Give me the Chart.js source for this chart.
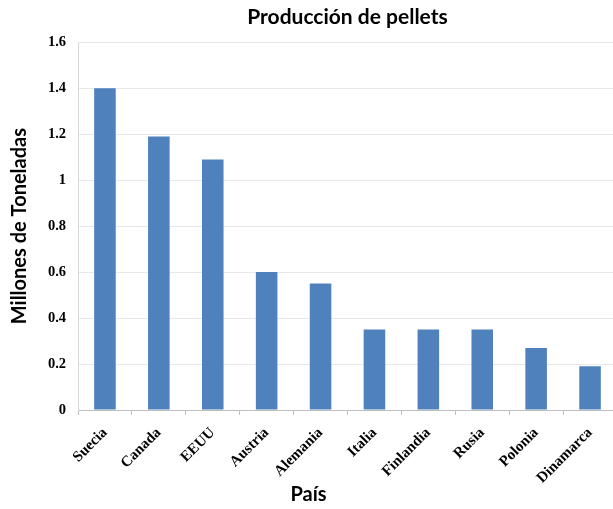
<!DOCTYPE html>
<html>
<head>
<meta charset="utf-8">
<script src="https://cdn.jsdelivr.net/npm/chart.js@4"></script>
<style>
  html, body { margin:0; padding:0; overflow:hidden; background:#fff; }
  #wrap { width:620px; height:509px; }
</style>
</head>
<body>
<div id="wrap"><canvas id="pellets"></canvas></div>
<script>
const paises     = ["Suecia", "Canada", "EEUU", "Austria", "Alemania", "Italia", "Finlandia", "Rusia", "Polonia", "Dinamarca"];
const produccion = [1.4, 1.19, 1.09, 0.6, 0.55, 0.35, 0.35, 0.35, 0.27, 0.19];
const yMin  = 0;
const yMax  = 1.6;
const yStep = 0.2;

const serifY = { family:"'Liberation Serif', 'Times New Roman', serif", size:14.5, weight:"bold" };
const serifX = { family:"'Liberation Serif', 'Times New Roman', serif", size:15, weight:"bold" };
const sans   = { family:"Lato, 'Open Sans', sans-serif", size:20, weight:"bold" };

const ctx = document.getElementById("pellets").getContext("2d");
new Chart(ctx, {
  type: "bar",
  data: {
    labels: paises,
    datasets: [{
      data: produccion,
      backgroundColor: "#4f81bd",
      borderWidth: 0,
      barPercentage: 0.4,
      categoryPercentage: 1,
    }],
  },
  options: {
    responsive: true,
    maintainAspectRatio: false,
    animation: false,
    layout: { padding: { left:0, right:3, top:0, bottom:0 } },
    plugins: {
      legend: { display: false },
      tooltip: { enabled: false },
      title: {
        display: true,
        text: "Producción de pellets",
        color: "#000",
        font: { ...sans, size:21 },
        fullSize: false,
        padding: { top:5, bottom:12 },
      },
      subtitle: {
        display: true,
        position: "bottom",
        text: "País",
        color: "#000",
        font: sans,
        fullSize: true,
        padding: { top:0, bottom:2 },
      },
    },
    scales: {
      x: {
        grid: { offset:true, drawOnChartArea:false, drawTicks:true, tickLength:5, color:"#bfbfbf" },
        border: { color:"#bfbfbf" },
        ticks: { color:"#000", font:serifX, maxRotation:45, minRotation:45, padding:9 },
        afterFit: (s) => { s.height = 73; },
      },
      y: {
        min: yMin,
        max: yMax,
        grid: { color:"#e8e8e8", drawTicks:false },
        border: { color:"#d9d9d9" },
        ticks: {
          stepSize: yStep,
          color: "#000",
          font: serifY,
          padding: 12,
          callback: (v) => String(Number(v.toFixed(2))),
        },
        title: {
          display: true,
          text: "Millones de Toneladas",
          color: "#000",
          font: sans,
          padding: { top:8, bottom:0 },
        },
        afterFit: (s) => { s.width = 78; },
      },
    },
  },
});
</script>
</body>
</html>
